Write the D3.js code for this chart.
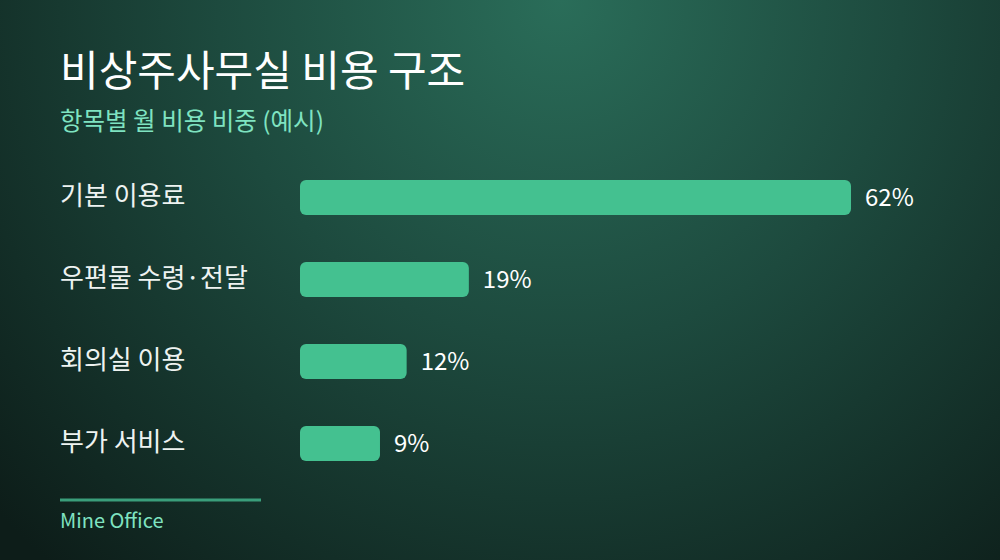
<!DOCTYPE html>
<html>
<head>
<meta charset="utf-8">
<script src="https://cdn.jsdelivr.net/npm/d3@7"></script>
<style>
  html, body { margin: 0; padding: 0; background: #10241f; }
  svg { display: block; font-family: "Noto Sans CJK KR", "Noto Sans", sans-serif; }
</style>
</head>
<body>
<script>
const w = 1000;
const h = 560;

const title = "비상주사무실 비용 구조";
const subtitle = "항목별 월 비용 비중 (예시)";
const categories = ["기본 이용료", "우편물 수령·전달", "회의실 이용", "부가 서비스"];
const values = [62, 19, 12, 9];
const valueLabels = ["62%", "19%", "12%", "9%"];
const footer = "Mine Office";

const data = categories.map((c, i) => ({ cat: c, val: values[i], label: valueLabels[i] }));

let svg = d3.select("body").append("svg").attr("width", w).attr("height", h);

// background glow from the top middle
let grad = svg.append("defs").append("radialGradient")
  .attr("id", "bg")
  .attr("gradientUnits", "userSpaceOnUse")
  .attr("cx", 560).attr("cy", 0).attr("r", 760);
grad.append("stop").attr("offset", "0%").attr("stop-color", "#2a6d59");
grad.append("stop").attr("offset", "45%").attr("stop-color", "#1d4a3e");
grad.append("stop").attr("offset", "100%").attr("stop-color", "#0d1d19");

svg.append("rect")
  .attr("width", w).attr("height", h)
  .attr("fill", "url(#bg)");

svg.append("text")
  .text(title)
  .attr("x", 60).attr("y", 86)
  .attr("fill", "#ffffff")
  .attr("font-size", 42)
  .attr("font-weight", 400);

svg.append("text")
  .text(subtitle)
  .attr("x", 60).attr("y", 130)
  .attr("fill", "#7fe3c1")
  .attr("font-size", 24.5);

let x = d3.scaleLinear().domain([0, 62]).range([300, 851]);
let y = d3.scaleBand().domain(categories).range([180, 461]).paddingInner(0.573).paddingOuter(0);

let rows = svg.selectAll("g.row")
  .data(data)
  .enter()
  .append("g")
  .attr("class", "row");

rows.append("rect")
  .attr("x", x(0))
  .attr("y", d => y(d.cat))
  .attr("width", d => x(d.val) - x(0))
  .attr("height", y.bandwidth())
  .attr("rx", 6)
  .attr("fill", "#44c190");

rows.append("text")
  .text(d => d.cat)
  .attr("x", 60)
  .attr("y", d => y(d.cat) + y.bandwidth() / 2)
  .attr("dy", "0.3em")
  .attr("fill", "#eef3f1")
  .attr("font-size", 26);

rows.append("text")
  .text(d => d.label)
  .attr("x", d => x(d.val) + 14)
  .attr("y", d => y(d.cat) + y.bandwidth() / 2)
  .attr("dy", "0.35em")
  .attr("fill", "#ffffff")
  .attr("font-size", 24);

svg.append("line")
  .attr("x1", 60).attr("x2", 261)
  .attr("y1", 500).attr("y2", 500)
  .attr("stroke", "#3a9e7b")
  .attr("stroke-width", 3);

svg.append("text")
  .text(footer)
  .attr("x", 60).attr("y", 528)
  .attr("fill", "#7fe3c1")
  .attr("font-size", 20);
</script>
</body>
</html>
